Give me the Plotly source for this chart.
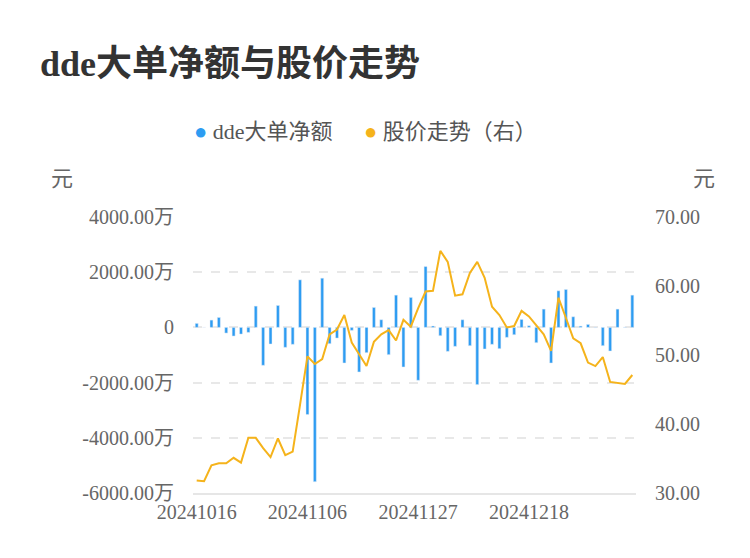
import plotly.graph_objects as go

dates = ["20241016", "20241017", "20241018", "20241021", "20241022", "20241023", "20241024", "20241025",
         "20241028", "20241029", "20241030", "20241031", "20241101", "20241104", "20241105", "20241106",
         "20241107", "20241108", "20241111", "20241112", "20241113", "20241114", "20241115", "20241118",
         "20241119", "20241120", "20241121", "20241122", "20241125", "20241126", "20241127", "20241128",
         "20241129", "20241202", "20241203", "20241204", "20241205", "20241206", "20241209", "20241210",
         "20241211", "20241212", "20241213", "20241216", "20241217", "20241218", "20241219", "20241220",
         "20241223", "20241224", "20241225", "20241226", "20241227", "20241230", "20241231", "20250102",
         "20250103", "20250106", "20250107", "20250108"]

# dde大单净额 (万元)
dde = [145, 0, 265, 360, -205, -313, -241, -181, 771, -1374, -602, 795, -723, -614, 1723, -3157,
       -5591, 1783, -590, -386, -1289, -108, -1615, -916, 723, 277, -988, 1169, -1434, 1085, -1916,
       2205, 50, -301, -868, -687, 277, -663, -2073, -783, -614, -771, -361, -265, 289, 60,
       -554, 663, -1289, 1326, 1374, 386, 48, 108, -10, -663, -855, 663, 10, 1169]

# 股价 (元)
price = [31.8, 31.7, 34.0, 34.3, 34.3, 35.1, 34.4, 38.0, 38.0, 36.5, 35.2, 37.9, 35.5, 36.0, 42.8,
         49.8, 48.7, 49.4, 53.0, 53.7, 55.8, 51.8, 50.1, 48.4, 51.9, 53.0, 53.6, 52.1, 55.1, 54.1,
         56.8, 59.2, 59.3, 65.1, 63.5, 58.6, 58.8, 61.9, 63.5, 61.2, 57.0, 55.8, 54.0, 54.2, 56.4,
         55.6, 54.3, 53.0, 50.6, 58.3, 55.4, 52.4, 51.7, 48.9, 48.4, 49.7, 46.1, 45.9, 45.8, 47.1]

left_ticks = [4000, 2000, 0, -2000, -4000, -6000]
left_text = ["4000.00万", "2000.00万", "0", "-2000.00万", "-4000.00万", "-6000.00万"]
right_ticks = [30, 40, 50, 60, 70]
right_text = ["30.00", "40.00", "50.00", "60.00", "70.00"]
x_ticks = ["20241016", "20241106", "20241127", "20241218"]

FONT = "Liberation Serif, Noto Sans CJK SC"
BLUE = "#2d9cf2"
GOLD = "#f5b31b"
L, R, T, B = 185, 628, 209, 485
PW, PH = R - L, B - T


def px(x):
    return (x - L) / PW


def py(y):
    return (B - y) / PH


fig = go.Figure()
fig.add_trace(go.Bar(x=dates, y=dde, name="dde大单净额", marker_color=BLUE, width=0.4))
fig.add_trace(go.Scatter(x=dates, y=price, name="股价走势（右）", yaxis="y2", mode="lines",
                         line=dict(color=GOLD, width=2)))

fig.update_layout(
    width=750, height=558,
    paper_bgcolor="white", plot_bgcolor="white",
    font=dict(family=FONT, color="#666", size=20),
    margin=dict(l=L, r=750 - R, t=T, b=558 - B, autoexpand=False),
    showlegend=False,
    xaxis=dict(type="category", tickmode="array", tickvals=x_ticks, ticktext=x_ticks,
               showgrid=False, showline=True, linecolor="#e6e6e6", linewidth=2, automargin=False,
               ticks="", tickfont=dict(size=20, color="#666")),
    yaxis=dict(range=[-6000, 4000], tickvals=left_ticks, ticktext=left_text, automargin=False,
               showgrid=True, gridcolor="#e8e8e8", griddash="dash", gridwidth=1.5,
               zeroline=False, ticks="", ticklabelstandoff=18, tickfont=dict(size=20, color="#666")),
    yaxis2=dict(range=[30, 70], tickvals=right_ticks, ticktext=right_text, overlaying="y",
                side="right", showgrid=False, zeroline=False, automargin=False,
                ticklabelstandoff=18, tickfont=dict(size=20, color="#666")),
)

fig.add_annotation(text="<b>dde大单净额与股价走势</b>", xref="paper", yref="paper",
                   x=px(30), y=py(56), xanchor="left", yanchor="middle",
                   showarrow=False, font=dict(size=36, color="#333"))
fig.add_annotation(text="<span style='color:%s'>●</span> dde大单净额" % BLUE, xref="paper", yref="paper",
                   x=px(184), y=py(124), xanchor="left", yanchor="middle",
                   showarrow=False, font=dict(size=22, color="#555"))
fig.add_annotation(text="<span style='color:%s'>●</span> 股价走势（右）" % GOLD, xref="paper", yref="paper",
                   x=px(354), y=py(124), xanchor="left", yanchor="middle",
                   showarrow=False, font=dict(size=22, color="#555"))
fig.add_annotation(text="元", xref="paper", yref="paper", x=px(54), y=py(170),
                   xanchor="center", yanchor="middle", showarrow=False, font=dict(size=22, color="#666"))
fig.add_annotation(text="元", xref="paper", yref="paper", x=px(696), y=py(170),
                   xanchor="center", yanchor="middle", showarrow=False, font=dict(size=22, color="#666"))

fig.write_html("out.html")
